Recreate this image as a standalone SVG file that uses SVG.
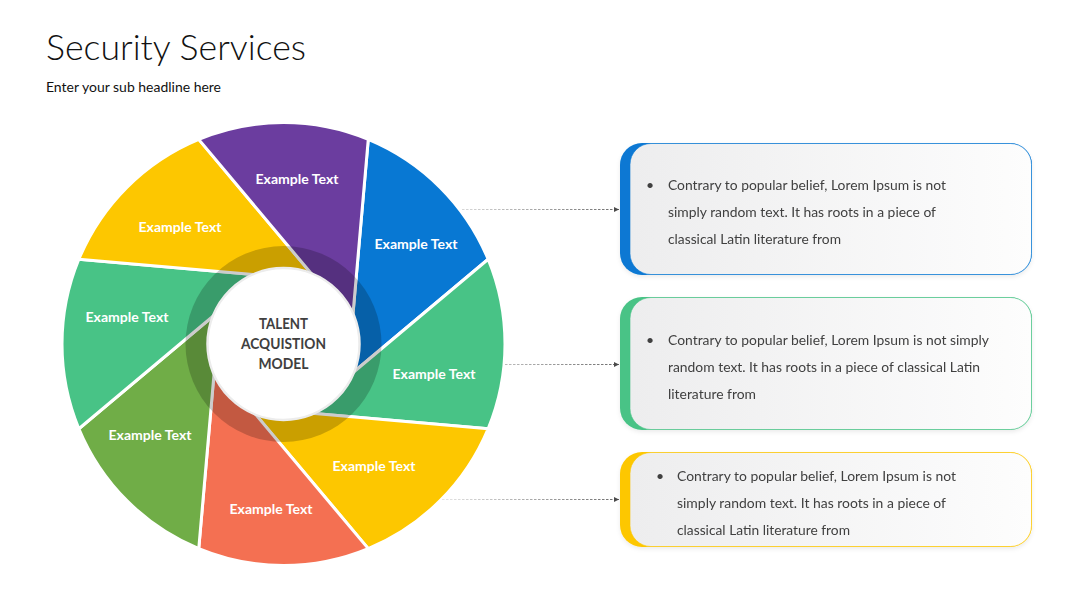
<svg xmlns="http://www.w3.org/2000/svg" width="1080" height="608" viewBox="0 0 1080 608">
<defs>
<style>
.title{font-family:Lato,"Open Sans","Liberation Sans",sans-serif;font-weight:300;font-size:35px;fill:#111}
.sub{font-family:Lato,"Open Sans","Liberation Sans",sans-serif;font-size:13.5px;fill:#111}
.seg{stroke:#fff;stroke-width:3;stroke-linejoin:round}
.lbl{font-family:Lato,"Open Sans","Liberation Sans",sans-serif;font-weight:700;font-size:14px;fill:#fff;text-anchor:middle}
.ctr{font-family:Lato,"Open Sans","Liberation Sans",sans-serif;font-weight:700;font-size:14.5px;fill:#404040;text-anchor:middle}
.body{font-family:Lato,"Open Sans","Liberation Sans",sans-serif;font-size:14px;fill:#404040}
.conn{fill:none;stroke:url(#cg);stroke-width:1;stroke-dasharray:2.5 1.5}
.card{fill:url(#bg);stroke-width:1;stroke-opacity:0.6}
</style>
<linearGradient id="bg" x1="0" y1="0" x2="1" y2="0">
<stop offset="0" stop-color="#ededee"/>
<stop offset="1" stop-color="#fdfdfd"/>
</linearGradient>
<linearGradient id="cg" gradientUnits="userSpaceOnUse" x1="440" y1="0" x2="620" y2="0">
<stop offset="0" stop-color="#e6e6e6"/>
<stop offset="1" stop-color="#6e6e6e"/>
</linearGradient>
<marker id="arr" markerWidth="6" markerHeight="6" refX="5" refY="3" orient="auto" markerUnits="userSpaceOnUse">
<path d="M0,0.6 L5,3 L0,5.4 z" fill="#4a4a4a"/>
</marker>
<filter id="sh" x="-5%" y="-10%" width="110%" height="125%">
<feDropShadow dx="0" dy="2" stdDeviation="2" flood-color="#000" flood-opacity="0.08"/>
</filter>
</defs>
<rect width="1080" height="608" fill="#fff"/>
<text class="title" x="46" y="60" textLength="260" lengthAdjust="spacingAndGlyphs">Security Services</text>
<text class="sub" x="46" y="92" textLength="175" lengthAdjust="spacingAndGlyphs">Enter your sub headline here</text>

<g id="wheel">
<g id="seg-blue"><path class="seg" fill="#0878d3" d="M368.26,139.36 A221.5,221.5 0 0 1 488.14,259.24 L326.31,395.02 L283.5,344 L349.85,349.8 Z"/></g>
<g id="seg-green-r"><path class="seg" fill="#48c386" d="M488.14,259.24 A221.5,221.5 0 0 1 488.14,428.76 L277.7,410.35 L283.5,344 L326.31,395.02 Z"/></g>
<g id="seg-yellow-b"><path class="seg" fill="#fdc700" d="M488.14,428.76 A221.5,221.5 0 0 1 368.26,548.64 L232.48,386.81 L283.5,344 L277.7,410.35 Z"/></g>
<g id="seg-red"><path class="seg" fill="#f47052" d="M368.26,548.64 A221.5,221.5 0 0 1 198.74,548.64 L217.15,338.2 L283.5,344 L232.48,386.81 Z"/></g>
<g id="seg-green-d"><path class="seg" fill="#70ad47" d="M198.74,548.64 A221.5,221.5 0 0 1 78.86,428.76 L240.69,292.98 L283.5,344 L217.15,338.2 Z"/></g>
<g id="seg-green-l"><path class="seg" fill="#48c386" d="M78.86,428.76 A221.5,221.5 0 0 1 78.86,259.24 L289.3,277.65 L283.5,344 L240.69,292.98 Z"/></g>
<g id="seg-yellow-t"><path class="seg" fill="#fdc700" d="M78.86,259.24 A221.5,221.5 0 0 1 198.74,139.36 L334.52,301.19 L283.5,344 L289.3,277.65 Z"/></g>
<g id="seg-purple"><path class="seg" fill="#6b3d9f" d="M198.74,139.36 A221.5,221.5 0 0 1 368.26,139.36 L349.85,349.8 L283.5,344 L334.52,301.19 Z"/></g>
<circle cx="283.5" cy="344" r="98" fill="#000" fill-opacity="0.2"/>
<text class="lbl" x="297" y="184" textLength="83" lengthAdjust="spacingAndGlyphs">Example Text</text>
<text class="lbl" x="416" y="249" textLength="83" lengthAdjust="spacingAndGlyphs">Example Text</text>
<text class="lbl" x="434" y="379" textLength="83" lengthAdjust="spacingAndGlyphs">Example Text</text>
<text class="lbl" x="374" y="471" textLength="83" lengthAdjust="spacingAndGlyphs">Example Text</text>
<text class="lbl" x="271" y="514" textLength="83" lengthAdjust="spacingAndGlyphs">Example Text</text>
<text class="lbl" x="150" y="440" textLength="83" lengthAdjust="spacingAndGlyphs">Example Text</text>
<text class="lbl" x="127" y="322" textLength="83" lengthAdjust="spacingAndGlyphs">Example Text</text>
<text class="lbl" x="180" y="232" textLength="83" lengthAdjust="spacingAndGlyphs">Example Text</text>
</g>

<g id="center">
<circle cx="283.5" cy="344" r="76" fill="#fff" stroke="#ececec" stroke-width="2.5"/>
<text class="ctr" x="283.5" y="329" textLength="49" lengthAdjust="spacingAndGlyphs">TALENT</text>
<text class="ctr" x="283.5" y="349" textLength="85" lengthAdjust="spacingAndGlyphs">ACQUISTION</text>
<text class="ctr" x="283.5" y="369" textLength="50" lengthAdjust="spacingAndGlyphs">MODEL</text>
</g>

<g id="connectors">
<path class="conn" d="M462,209.5 H619" marker-end="url(#arr)"/>
<path class="conn" d="M505,364.5 H619" marker-end="url(#arr)"/>
<path class="conn" d="M442,499.5 H619" marker-end="url(#arr)"/>
</g>

<g id="box1" filter="url(#sh)">
<rect x="620" y="143" width="412" height="132" rx="22" fill="#0878d3"/>
<rect class="card" x="630" y="143.5" width="401.5" height="131" rx="21" stroke="#0878d3"/>
<text class="body" x="646" y="190">•</text>
<text class="body" x="668" y="190" textLength="278" lengthAdjust="spacingAndGlyphs">Contrary to popular belief, Lorem Ipsum is not</text>
<text class="body" x="668" y="217" textLength="268" lengthAdjust="spacingAndGlyphs">simply random text. It has roots in a piece of</text>
<text class="body" x="668" y="244" textLength="173" lengthAdjust="spacingAndGlyphs">classical Latin literature from</text>
</g>

<g id="box2" filter="url(#sh)">
<rect x="620" y="297" width="412" height="133" rx="22" fill="#48c386"/>
<rect class="card" x="630" y="297.5" width="401.5" height="132" rx="21" stroke="#48c386"/>
<text class="body" x="646" y="345">•</text>
<text class="body" x="668" y="345" textLength="321" lengthAdjust="spacingAndGlyphs">Contrary to popular belief, Lorem Ipsum is not simply</text>
<text class="body" x="668" y="372" textLength="312" lengthAdjust="spacingAndGlyphs">random text. It has roots in a piece of classical Latin</text>
<text class="body" x="668" y="399" textLength="88" lengthAdjust="spacingAndGlyphs">literature from</text>
</g>

<g id="box3" filter="url(#sh)">
<rect x="620" y="452" width="412" height="95" rx="22" fill="#fdc700"/>
<rect class="card" x="630" y="452.5" width="401.5" height="94" rx="21" stroke="#fdc700"/>
<text class="body" x="656" y="481">•</text>
<text class="body" x="677" y="481" textLength="279" lengthAdjust="spacingAndGlyphs">Contrary to popular belief, Lorem Ipsum is not</text>
<text class="body" x="677" y="508" textLength="269" lengthAdjust="spacingAndGlyphs">simply random text. It has roots in a piece of</text>
<text class="body" x="677" y="535" textLength="173" lengthAdjust="spacingAndGlyphs">classical Latin literature from</text>
</g>
</svg>
